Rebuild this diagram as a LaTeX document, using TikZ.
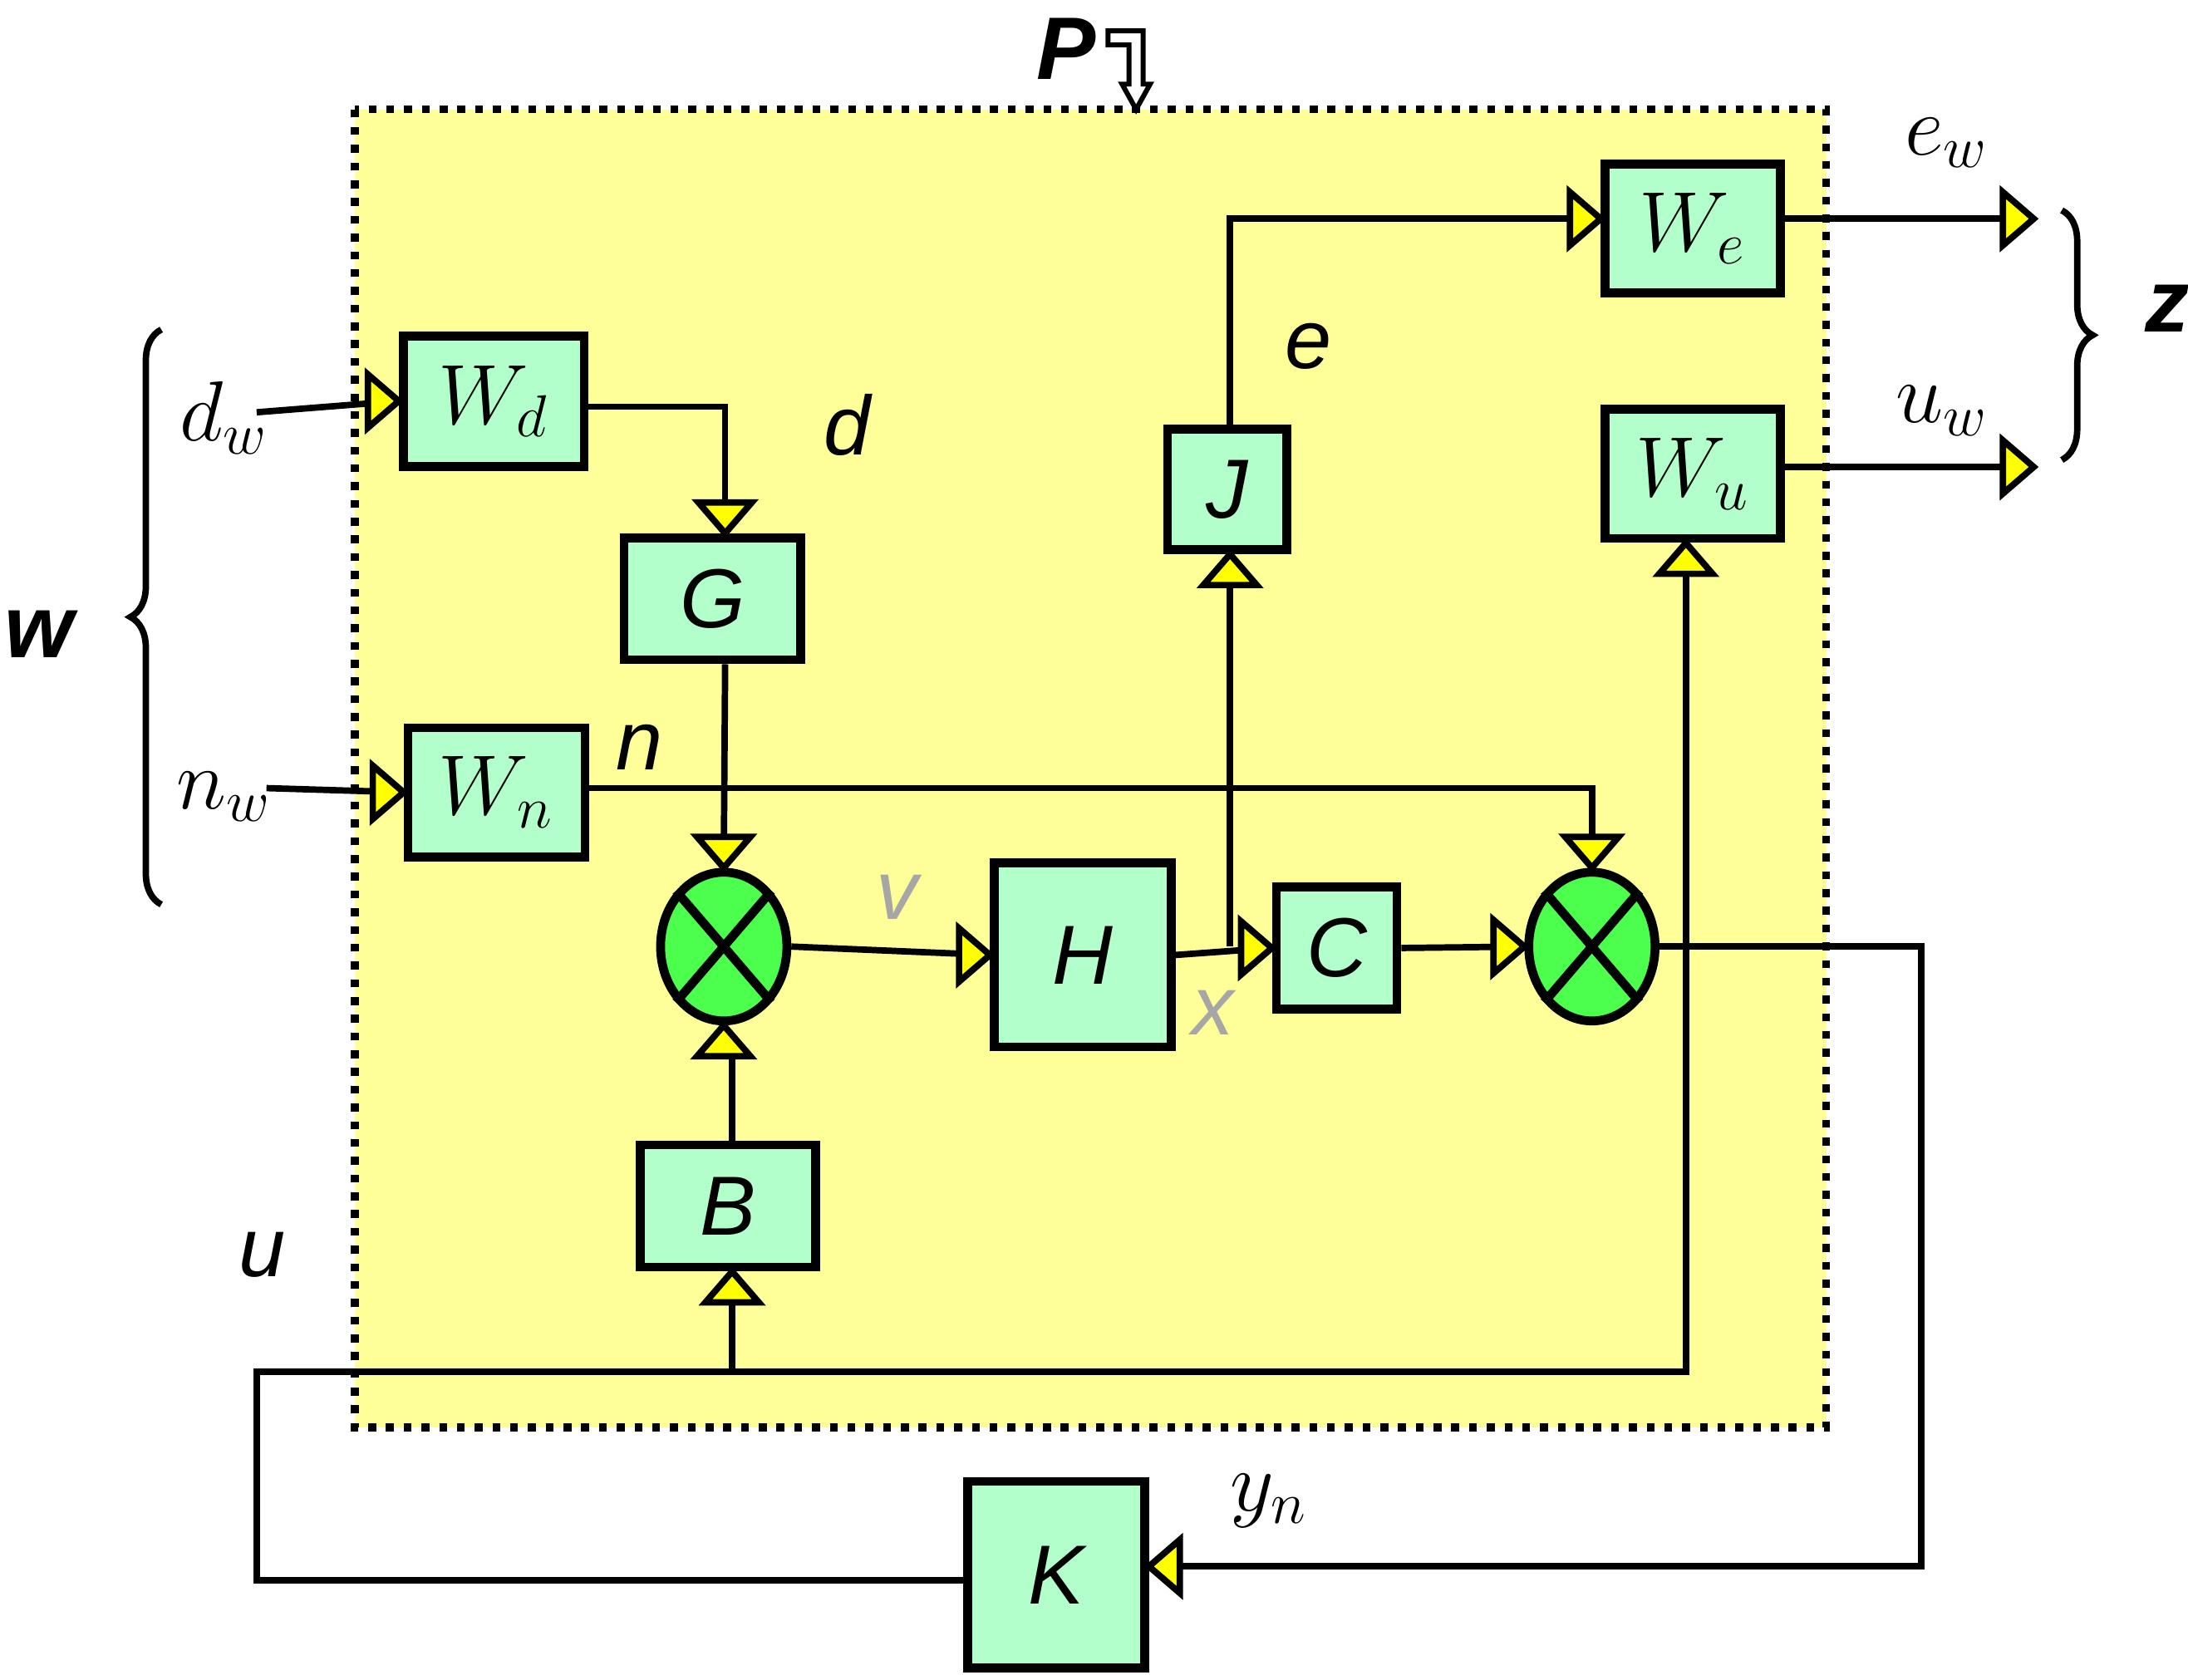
\documentclass[tikz,border=0pt]{standalone}
\usepackage{fontspec}
\setmainfont{Liberation Sans}
\usetikzlibrary{decorations.pathreplacing,shapes.geometric}
\definecolor{bg}{HTML}{FFFF99}
\definecolor{bx}{HTML}{B3FFCC}
\definecolor{sm}{HTML}{4CFF4C}
\definecolor{tr}{HTML}{FFFF00}
\begin{document}
\begin{tikzpicture}[x=0.01cm,y=-0.01cm,line width=1.3pt,
  box/.style={draw,fill=bx,line width=1.8pt,font=\fontsize{17}{19}\selectfont\itshape},
  sum/.style={draw,fill=sm,ellipse,line width=1.8pt,minimum width=0.9cm,minimum height=1.06cm,inner sep=0pt},
  lab/.style={font=\fontsize{17}{19}\selectfont\itshape},
  tri/.pic={\draw[fill=tr,line width=1.3pt] (0,0)--(-22,-19)--(-22,19)--cycle;}]
\useasboundingbox (0,0) rectangle (1560,1198);
\fill[white] (0,0) rectangle (1560,1198);
\draw[fill=bg,dotted,line width=1.6pt] (253,78) rectangle (1302,1018);
\node[lab,font=\fontsize{18}{20}\selectfont\bfseries\itshape] (P) at (760,35) {P};
\draw[fill=white,line width=1pt] (790,22)--(815,22)--(815,60)--(820,60)--(810,78)--(800,60)--(805,60)--(805,32)--(790,32)--cycle;
% boxes
\node[box,minimum width=1.29cm,minimum height=0.93cm] (Wd) at (352,286) {$W_d$};
\node[box,minimum width=1.26cm,minimum height=0.87cm] (G) at (508,427) {G};
\node[box,minimum width=1.26cm,minimum height=0.92cm] (Wn) at (354,565) {$W_n$};
\node[box,minimum width=1.26cm,minimum height=1.31cm] (H) at (772,681) {H};
\node[box,minimum width=0.86cm,minimum height=0.87cm] (C) at (953,676) {C};
\node[box,minimum width=0.85cm,minimum height=0.86cm] (J) at (875,349) {J};
\node[box,minimum width=1.25cm,minimum height=0.92cm] (We) at (1207,163) {$W_e$};
\node[box,minimum width=1.25cm,minimum height=0.92cm] (Wu) at (1207,338) {$W_u$};
\node[box,minimum width=1.25cm,minimum height=0.87cm] (B) at (519,860) {B};
\node[box,minimum width=1.26cm,minimum height=1.33cm] (K) at (753,1123) {K};
\node[sum] (S1) at (516,675) {};
\draw[line width=1.8pt] (S1.north west)--(S1.south east) (S1.north east)--(S1.south west);
\node[sum] (S2) at (1135,675) {};
\draw[line width=1.8pt] (S2.north west)--(S2.south east) (S2.north east)--(S2.south west);
% labels
\node[lab] (dw) at (160,298) {$d_w$};
\node[lab] (nw) at (160,568) {$n_w$};
\node[lab] (d) at (604,303) {d};
\node[lab] (n) at (456,533) {n};
\node[lab,text=gray!70] (v) at (640,640) {v};
\node[lab,text=gray!70] (x) at (865,722) {x};
\node[lab] (e) at (933,247) {e};
\node[lab] (ew) at (1388,102) {$e_w$};
\node[lab] (uw) at (1385,293) {$u_w$};
\node[lab] (yn) at (905,1070) {$y_n$};
\node[lab] (u) at (187,895) {u};
\node[lab,font=\fontsize{18}{20}\selectfont\bfseries\itshape] (w) at (28,452) {w};
\node[lab,font=\fontsize{18}{20}\selectfont\bfseries\itshape] (z) at (1545,220) {z};
% coordinates
\coordinate (dws) at (183,294);
\coordinate (nws) at (190,562);
\coordinate (ewo) at (1450,156);
\coordinate (uwo) at (1450,333);
% connectors
\draw (dws)--(Wd.west);
\draw (Wd.east|-0,290)--(517,290)--(G.north-|517,0);
\draw (nws)--(Wn.west);
\draw (Wn.east|-0,562)--(1135,562)--(S2.north);
\draw (G.south-|517,0)--(S1.north);
\draw (B.north-|522,0)--(522,750);
\draw (S1.east)--(H.west);
\draw (H.east)--(C.west);
\draw (877,675)--(J.south-|877,0);
\draw (J.north-|877,0)--(877,156)--(We.west|-0,156);
\draw (We.east|-0,156)--(ewo);
\draw (Wu.east|-0,333)--(uwo);
\draw (C.east)--(S2.west);
\draw (S2.east)--(1370,675)--(1370,1117)--(K.east|-0,1117);
\draw (K.west|-0,1127)--(183,1127)--(183,978)--(1202,978)--(Wu.south-|1202,0);
\draw (522,978)--(B.south-|522,0);
% triangles
\pic at (Wd.west) {tri};
\pic at (Wn.west) {tri};
\pic[rotate=-90] at (G.north-|517,0) {tri};
\pic[rotate=-90] at (S1.north) {tri};
\pic[rotate=90] at (S1.south) {tri};
\pic[rotate=90] at (B.south-|522,0) {tri};
\pic at (H.west) {tri};
\pic at (C.west) {tri};
\pic[rotate=90] at (J.south-|877,0) {tri};
\pic at (We.west|-0,156) {tri};
\pic at (ewo) {tri};
\pic at (uwo) {tri};
\pic[rotate=90] at (Wu.south-|1202,0) {tri};
\pic[rotate=-90] at (S2.north) {tri};
\pic at (S2.west) {tri};
\pic[rotate=180] at (K.east|-0,1117) {tri};
% braces
\draw[decorate,decoration={brace,amplitude=0.22cm}] (115,645)--(115,235);
\draw[decorate,decoration={brace,amplitude=0.22cm}] (1470,150)--(1470,328);
\end{tikzpicture}
\end{document}
